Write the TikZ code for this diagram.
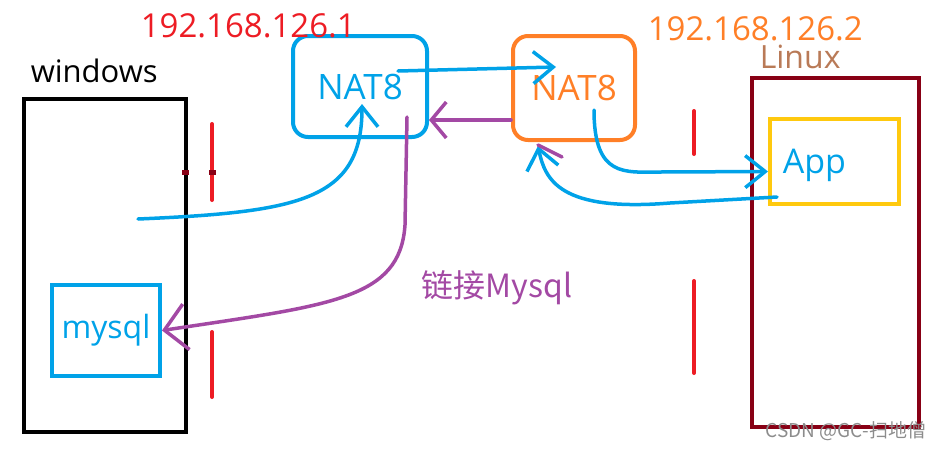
\documentclass[tikz,border=0pt]{standalone}
\usepackage{fontspec}
\setmainfont{Open Sans}
\newfontfamily\cjk{Noto Sans CJK SC}
\usetikzlibrary{arrows.meta,positioning,calc}
\definecolor{paintblue}{RGB}{0,162,232}
\definecolor{paintorange}{RGB}{255,127,39}
\definecolor{paintred}{RGB}{237,28,36}
\definecolor{paintpurple}{RGB}{163,73,164}
\definecolor{paintdarkred}{RGB}{136,0,21}
\definecolor{paintgold}{RGB}{255,201,14}
\definecolor{paintbrown}{RGB}{185,122,87}

\begin{document}
\begin{tikzpicture}[
    x=1pt, y=-1pt,
    line width=3.5pt, line cap=round,
    hostbox/.style={rectangle, draw, inner sep=0pt},
    natbox/.style={rectangle, draw, rounded corners=15pt, line width=4pt, inner sep=0pt, font=\fontsize{35}{35}\selectfont},
    appbox/.style={rectangle, draw=paintgold, line width=4pt, inner sep=0pt},
    label/.style={anchor=base west, inner sep=0pt, font=\fontsize{31}{31}\selectfont},
    divider/.style={draw=paintred, line width=4pt},
    arrow/.style={-{Straight Barb[length=20pt,width=32pt]}, line width=3.5pt}
]
\useasboundingbox (0,0) rectangle (942,448);

% Hosts
\node[hostbox, draw=black, minimum width=162pt, minimum height=333pt] (win) at (105,265.5) {};
\node[hostbox, draw=paintdarkred, line width=4pt, minimum width=167pt, minimum height=349pt] (linux) at (835.5,252.5) {};
\node[appbox, minimum width=129pt, minimum height=85pt] (app) at (834.5,161.5) {};
\node[hostbox, draw=paintblue, line width=4pt, minimum width=108pt, minimum height=91pt, font=\fontsize{32}{32}\selectfont, text=paintblue] (sql) at (106,330.5) {mysql};

% NAT gateways
\node[natbox, draw=paintblue, text=paintblue, minimum width=134pt, minimum height=101pt] (nat1) at (360,86.5) {\raisebox{-3pt}{NAT8}};
\node[natbox, draw=paintorange, text=paintorange, minimum width=122pt, minimum height=104pt] (nat2) at (574,88) {NAT8};

% Labels
\node[label] (winlabel) at (29,82) {windows};
\node[label, text=paintbrown, font=\fontsize{32}{32}\selectfont] (linuxlabel) at (758,68) {Linux};
\node[label, text=paintblue, font=\fontsize{34}{34}\selectfont] (applabel) at (781,173) {App};
\node[label, text=paintred, font=\fontsize{33}{33}\selectfont] (ip1) at (139,37) {192.168.126.1};
\node[label, text=paintorange, font=\fontsize{33}{33}\selectfont] (ip2) at (646,40) {192.168.126.2};
\node[label, text=paintpurple, font=\cjk\fontsize{32}{32}\selectfont] (link) at (420,297) {链接Mysql};
\node[label, text=black!45, font=\cjk\fontsize{19}{19}\selectfont] (mark) at (764,437) {CSDN @GC-扫地僧};

% Firewalls
\draw[divider] (212,124) -- (212,200);
\draw[divider] (212,332) -- (212,397);
\draw[divider] (694,111) -- (694,154);
\draw[divider] (694,281) -- (694,373);
\fill[paintdarkred] (182,170) rectangle (189,175);
\fill[paintdarkred] (209,170) rectangle (216,175);

% Free ends
\coordinate (winout) at (138,219);
\coordinate (nat1in) at (362,104);
\coordinate (nat1out) at (398,71);
\coordinate (nat1down) at (407,117);
\coordinate (nat2in) at (556,67);
\coordinate (nat2out) at (594,110);
\coordinate (appout) at (777,197);

% Arrows
\draw[arrow, paintblue] (winout) .. controls (300,212) and (362,200) .. (nat1in);
\draw[arrow, paintblue] (nat1out) -- (nat2in);
\draw[arrow, paintpurple, -{Straight Barb[length=15pt,width=36pt]}] ([yshift=-32pt]nat2.west) -- ([yshift=-33.5pt]nat1.east);
\draw[arrow, paintpurple, -{Straight Barb[length=22pt,width=46pt]}] (nat1down) -- (405,225) .. controls (400,300) and (330,305) .. (sql.east);
\draw[arrow, paintblue] (nat2out) .. controls (594,178) and (625,172) .. (660,172) -- ([yshift=-10pt]app.west);
\draw[arrow, paintblue] (appout) -- (670,203) .. controls (560,212) and (545,180) .. ([xshift=-36pt,yshift=-4pt]nat2.south);
\draw[paintpurple] ([xshift=-36pt,yshift=-3pt]nat2.south) -- (562,157);

\end{tikzpicture}
\end{document}
